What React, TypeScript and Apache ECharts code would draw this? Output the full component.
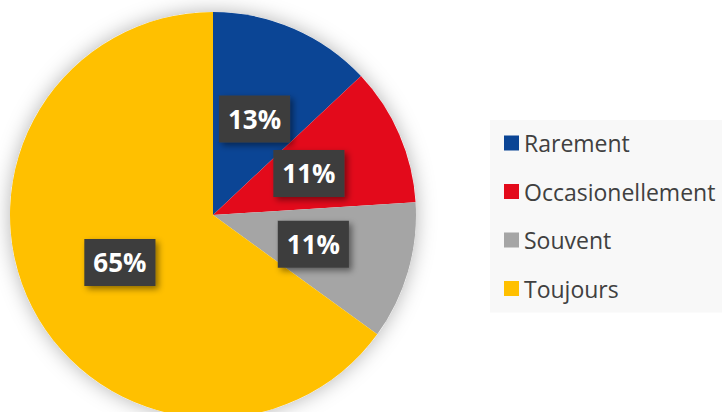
import React, { useEffect, useRef } from "react";
import * as echarts from "echarts";

const categories = ["Rarement", "Occasionellement", "Souvent", "Toujours"];
const values = [13, 11, 11, 65];
const colors = ["#0B4595", "#E30A1B", "#A5A5A5", "#FFC000"];

export default function App() {
  const ref = useRef<HTMLDivElement>(null);
  useEffect(() => {
    if (!ref.current) return;
    const chart = echarts.init(ref.current, null, { renderer: "svg" });
    const data = categories.map((name, i) => ({
      name,
      value: values[i],
      itemStyle: { color: colors[i] },
    }));
    chart.setOption({
      animation: false,
      backgroundColor: "#ffffff",
      legend: {
        orient: "vertical",
        left: 490,
        top: 120,
        data: categories,
        icon: "rect",
        itemWidth: 15,
        itemHeight: 15,
        itemGap: 22.5,
        padding: [10, 16, 11, 14],
        backgroundColor: "#f8f8f8",
        selectedMode: false,
        textStyle: {
          fontFamily: "Open Sans",
          fontSize: 23,
          lineHeight: 26,
          color: "#404040",
        },
      },
      series: [
        {
          type: "pie",
          silent: true,
          center: [213, 215],
          radius: 203,
          z: 1,
          label: { show: false },
          labelLine: { show: false },
          itemStyle: {
            color: "#ffffff",
            shadowBlur: 20,
            shadowColor: "rgba(0,0,0,0.3)",
          },
          data: [{ value: 1, name: "" }],
          legendHoverLink: false,
        },
        {
          type: "pie",
          center: [213, 215],
          radius: 203,
          startAngle: 90,
          clockwise: true,
          z: 2,
          data,
          itemStyle: { borderWidth: 0 },
          label: {
            show: true,
            position: "inside",
            formatter: (p: any) => `${Math.round(p.percent)}%`,
            fontFamily: "Open Sans",
            fontWeight: "bold",
            fontSize: 26,
            lineHeight: 27,
            color: "#ffffff",
            backgroundColor: "#3d3d3d",
            padding: [10, 9, 10, 9],
            shadowBlur: 6,
            shadowOffsetX: 3,
            shadowOffsetY: 3,
            shadowColor: "rgba(0,0,0,0.45)",
          },
          labelLine: { show: false },
        },
      ],
    });
    return () => chart.dispose();
  }, []);
  return (
    <div
      ref={ref}
      style={{ position: "absolute", left: 0, top: 0, width: 722, height: 412 }}
    />
  );
}
